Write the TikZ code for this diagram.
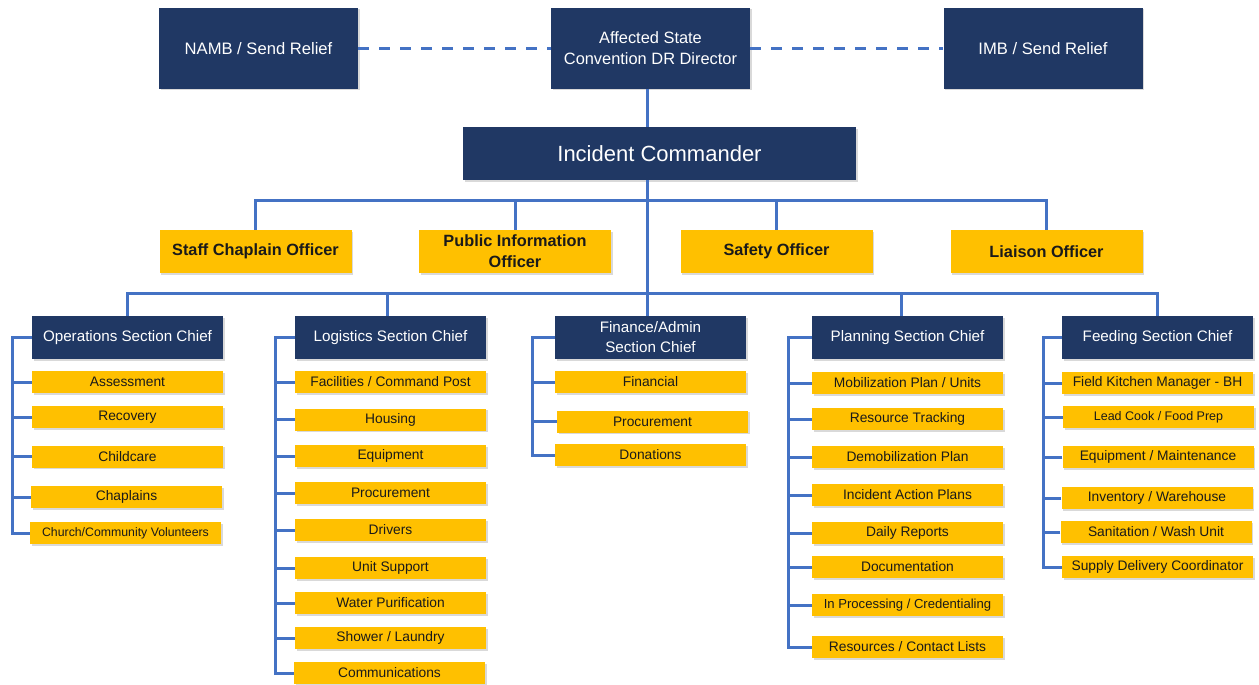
\documentclass[tikz,border=0pt]{standalone}
\usepackage{fontspec}
\setmainfont{Liberation Sans}
\usetikzlibrary{shadows}
\definecolor{navy}{HTML}{203864}
\definecolor{gold}{HTML}{FFC000}
\definecolor{lineblue}{HTML}{4472C4}
\definecolor{ink}{HTML}{1A1A1A}
\newcommand{\fs}[1]{\fontsize{#1}{#1}\selectfont}
\newcommand{\fsl}[2]{\fontsize{#1}{#2}\selectfont}
\tikzset{
  shad/.style={drop shadow={opacity=0.3,shadow xshift=1.5pt,shadow yshift=-1.5pt}},
  topbox/.style={shad,fill=navy,text=white,minimum width=199pt,minimum height=81pt,inner sep=0pt,align=center},
  icbox/.style={shad,fill=navy,text=white,minimum width=393pt,minimum height=53pt,inner sep=0pt,font=\fs{22}},
  offbox/.style={shad,fill=gold,text=ink,minimum width=192pt,minimum height=43pt,inner sep=0pt,align=center,font=\fsl{16.3}{21}\bfseries},
  chiefbox/.style={shad,fill=navy,text=white,minimum width=191pt,minimum height=43pt,inner sep=0pt,align=center,font=\fsl{15.2}{20}},
  itembox/.style={shad,fill=gold,text=ink,minimum width=191pt,minimum height=22pt,inner sep=0pt,font=\fs{13.8}},
  conn/.style={draw=lineblue,line width=3pt},
  dashconn/.style={draw=lineblue,line width=3pt,dash pattern=on 11pt off 10pt}
}
\begin{document}
\begin{tikzpicture}[x=1pt,y=-1pt]
\useasboundingbox (0,0) rectangle (1259,685);
% top row
\node[topbox,font=\fs{16.6}] (namb) at (258.5,48.5) {NAMB / Send Relief};
\node[topbox,font=\fsl{16.4}{21}] (aff) at (650.5,48.5) {Affected State\\Convention DR Director};
\node[topbox,font=\fs{16.6}] (imb) at (1043,48.5) {IMB / Send Relief};
\node[icbox] (ic) at (659.5,153.5) {Incident Commander};
% officers
\node[offbox] (chap) at (255.5,251.5) {Staff Chaplain Officer};
\node[offbox] (pio) at (515,251.5) {Public Information\\Officer};
\node[offbox] (safety) at (776.5,251.5) {Safety Officer};
\node[offbox] (liaison) at (1046.5,251.5) {Liaison Officer};
% section chiefs
\node[chiefbox] (ops) at (127.5,337.5) {Operations Section Chief};
\node[chiefbox] (log) at (390.5,337.5) {Logistics Section Chief};
\node[chiefbox] (fin) at (650.5,337.5) {Finance/Admin\\Section Chief};
\node[chiefbox] (plan) at (907.5,337.5) {Planning Section Chief};
\node[chiefbox] (feed) at (1157.5,337.5) {Feeding Section Chief};
% operations items
\node[itembox] (ops1) at (127.5,382) {Assessment};
\node[itembox] (ops2) at (127.5,417) {Recovery};
\node[itembox] (ops3) at (127.5,456.5) {Childcare};
\node[itembox] (ops4) at (126.5,497) {Chaplains};
\node[itembox,font=\fs{12.3}] (ops5) at (125.5,533) {Church/Community Volunteers};
% logistics items
\node[itembox] (log1) at (390.5,382) {Facilities / Command Post};
\node[itembox] (log2) at (390.5,419.5) {Housing};
\node[itembox] (log3) at (390.5,456) {Equipment};
\node[itembox] (log4) at (390.5,493) {Procurement};
\node[itembox] (log5) at (390.5,530) {Drivers};
\node[itembox] (log6) at (390.5,568) {Unit Support};
\node[itembox] (log7) at (390.5,603) {Water Purification};
\node[itembox] (log8) at (390.5,638) {Shower / Laundry};
\node[itembox] (log9) at (389.5,673) {Communications};
% finance items
\node[itembox] (fin1) at (650.5,382) {Financial};
\node[itembox] (fin2) at (652.5,421.5) {Procurement};
\node[itembox] (fin3) at (650.5,455) {Donations};
% planning items
\node[itembox] (plan1) at (907.5,383) {Mobilization Plan / Units};
\node[itembox] (plan2) at (907.5,419) {Resource Tracking};
\node[itembox] (plan3) at (907.5,457) {Demobilization Plan};
\node[itembox] (plan4) at (907.5,495) {Incident Action Plans};
\node[itembox] (plan5) at (907.5,533) {Daily Reports};
\node[itembox] (plan6) at (907.5,567) {Documentation};
\node[itembox,font=\fs{13.1}] (plan7) at (907.5,605) {In Processing / Credentialing};
\node[itembox] (plan8) at (907.5,647) {Resources / Contact Lists};
% feeding items
\node[itembox] (feed1) at (1157.5,383) {Field Kitchen Manager - BH};
\node[itembox,font=\fs{12.5}] (feed2) at (1158.5,417) {Lead Cook / Food Prep};
\node[itembox] (feed3) at (1158,457) {Equipment / Maintenance};
\node[itembox] (feed4) at (1157,498) {Inventory / Warehouse};
\node[itembox] (feed5) at (1156,532) {Sanitation / Wash Unit};
\node[itembox] (feed6) at (1157.5,567) {Supply Delivery Coordinator};
% coordinates
\coordinate (spine) at (647,0);
\coordinate (ob) at (0,200);
\coordinate (sb) at (0,293);
\coordinate (bxops) at (12,0);
\coordinate (bxlog) at (275,0);
\coordinate (bxfin) at (532,0);
\coordinate (bxplan) at (788,0);
\coordinate (bxfeed) at (1043,0);
% top connectors
\draw[dashconn] (namb.east) -- (aff.west);
\draw[dashconn] (aff.east) -- (imb.west);
\draw[conn] (aff.south -| spine) -- (ic.north -| spine);
\draw[conn] (ic.south -| spine) -- (fin.north -| spine);
% officer bus
\draw[conn] (chap.north) |- (liaison.north |- ob) -- (liaison.north);
\draw[conn] (pio.north) -- (pio.north |- ob);
\draw[conn] (safety.north) -- (safety.north |- ob);
% section bus
\draw[conn] (ops.north) |- (feed.north |- sb) -- (feed.north);
\draw[conn] ([xshift=-3.5pt]log.north) -- ([xshift=-3.5pt]log.north |- sb);
\draw[conn] ([xshift=-6.5pt]plan.north) -- ([xshift=-6.5pt]plan.north |- sb);
% brackets
\draw[conn] (ops.west) -| (bxops |- ops5.west) -- (ops5.west);
\foreach \n in {ops1,ops2,ops3,ops4} \draw[conn] (\n.west) -- (\n.west -| bxops);
\draw[conn] (log.west) -| (bxlog |- log9.west) -- (log9.west);
\foreach \n in {log1,log2,log3,log4,log5,log6,log7,log8} \draw[conn] (\n.west) -- (\n.west -| bxlog);
\draw[conn] (fin.west) -| (bxfin |- fin3.west) -- (fin3.west);
\foreach \n in {fin1,fin2} \draw[conn] (\n.west) -- (\n.west -| bxfin);
\draw[conn] (plan.west) -| (bxplan |- plan8.west) -- (plan8.west);
\foreach \n in {plan1,plan2,plan3,plan4,plan5,plan6,plan7} \draw[conn] (\n.west) -- (\n.west -| bxplan);
\draw[conn] (feed.west) -| (bxfeed |- feed6.west) -- (feed6.west);
\foreach \n in {feed1,feed2,feed3,feed4,feed5} \draw[conn] (\n.west) -- (\n.west -| bxfeed);
\end{tikzpicture}
\end{document}
